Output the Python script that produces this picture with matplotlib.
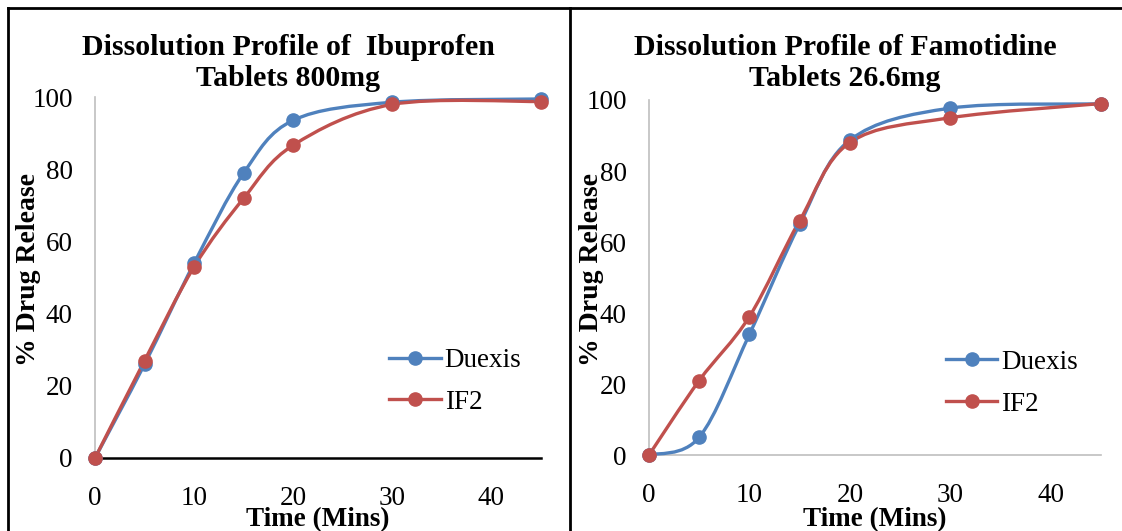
import matplotlib
matplotlib.use("Agg")
import matplotlib.pyplot as plt
from matplotlib.path import Path
from matplotlib.patches import PathPatch
from matplotlib.lines import Line2D

# ---------- Data ----------
time_mins = [0, 5, 10, 15, 20, 30, 45]

ibu_duexis = [0, 26, 54, 79, 93.6, 98.6, 99.5]
ibu_if2 = [0, 27, 53, 72, 86.7, 98, 98.8]

famo_duexis = [0, 5, 34, 65, 88.7, 97.7, 98.9]
famo_if2 = [0, 21, 39, 66, 88, 95, 99]

titles = ["Dissolution Profile of  Ibuprofen\nTablets 800mg",
          "Dissolution Profile of Famotidine\nTablets 26.6mg"]
series_names = ["Duexis", "IF2"]
x_ticks = [0, 10, 20, 30, 40]
y_ticks = [0, 20, 40, 60, 80, 100]

BLUE = "#4F81BD"
RED = "#C0504D"
SERIF = ["Liberation Serif", "DejaVu Serif"]


# ---------- Smoothed line (Excel-style bezier through the points) ----------
def smooth_path(xs, ys):
    pts = list(zip(xs, ys))
    verts = [pts[0]]
    codes = [Path.MOVETO]
    n = len(pts)
    for i in range(n - 1):
        p0 = pts[i - 1] if i > 0 else pts[i]
        p1 = pts[i]
        p2 = pts[i + 1]
        p3 = pts[i + 2] if i + 2 < n else pts[i + 1]
        c1 = (p1[0] + (p2[0] - p0[0]) / 6, p1[1] + (p2[1] - p0[1]) / 6)
        c2 = (p2[0] - (p3[0] - p1[0]) / 6, p2[1] - (p3[1] - p1[1]) / 6)
        verts += [c1, c2, p2]
        codes += [Path.CURVE4] * 3
    return Path(verts, codes)


def draw_panel(ax, duexis, if2, xaxis_color, leg_anchor):
    for ys, col in [(duexis, BLUE), (if2, RED)]:
        ax.add_patch(PathPatch(smooth_path(time_mins, ys), facecolor="none",
                               edgecolor=col, lw=2.4, clip_on=False, zorder=3))
        ax.plot(time_mins, ys, linestyle="none", marker="o", ms=9.5,
                color=col, clip_on=False, zorder=4)
    ax.set_xlim(0, 45)
    ax.set_ylim(0, 100)
    ax.set_xticks(x_ticks)
    ax.set_yticks(y_ticks)
    ax.tick_params(length=0, labelsize=19.5)
    ax.tick_params(axis="x", pad=20)
    ax.tick_params(axis="y", pad=16)
    for lab in ax.get_xticklabels() + ax.get_yticklabels():
        lab.set_family(SERIF)
    ax.spines["top"].set_visible(False)
    ax.spines["right"].set_visible(False)
    ax.spines["left"].set_color("#BFBFBF")
    ax.spines["left"].set_linewidth(1.2)
    ax.spines["bottom"].set_color(xaxis_color)
    ax.spines["bottom"].set_linewidth(1.8 if xaxis_color == "black" else 1.2)
    handles = [Line2D([], [], color=BLUE, lw=2.4, marker="o", ms=9.5),
               Line2D([], [], color=RED, lw=2.4, marker="o", ms=9.5)]
    ax.legend(handles, series_names, loc="center left",
              bbox_to_anchor=leg_anchor, frameon=False, handlelength=1.9,
              handletextpad=0.15, labelspacing=0.62,
              prop={"family": SERIF, "size": 19.5})


fig = plt.figure(figsize=(11.22, 5.31), dpi=100)

ax1 = fig.add_axes([0.0847, 0.1375, 0.3975, 0.6795])
ax2 = fig.add_axes([0.5784, 0.143, 0.4029, 0.6687])

draw_panel(ax1, ibu_duexis, ibu_if2, "black", (0.605, 0.212))
draw_panel(ax2, famo_duexis, famo_if2, "#BFBFBF", (0.603, 0.202))

# titles and axis labels
fig.text(288 / 1122, 1 - 63 / 531, titles[0], ha="center", va="center",
         fontsize=21.5, fontweight="bold", family=SERIF, linespacing=1.15)
fig.text(845 / 1122, 1 - 63 / 531, titles[1], ha="center", va="center",
         fontsize=21.5, fontweight="bold", family=SERIF, linespacing=1.15)
for xc in [29, 591]:
    fig.text(xc / 1122, 1 - 270 / 531, "% Drug Release", rotation=90,
             ha="center", va="center", fontsize=20, fontweight="bold",
             family=SERIF)
for xc in [318, 875]:
    fig.text(xc / 1122, 1 - 520 / 531, "Time (Mins)", ha="center",
             va="center", fontsize=19.5, fontweight="bold", family=SERIF)

# panel borders
fig.add_artist(Line2D([8 / 1122, 1], [1 - 8 / 531] * 2, color="black", lw=2))
fig.add_artist(Line2D([8 / 1122] * 2, [0, 1 - 8 / 531], color="black", lw=2))
fig.add_artist(Line2D([570 / 1122] * 2, [0, 1 - 8 / 531], color="black", lw=2))

fig.savefig("out.png", dpi=100)
